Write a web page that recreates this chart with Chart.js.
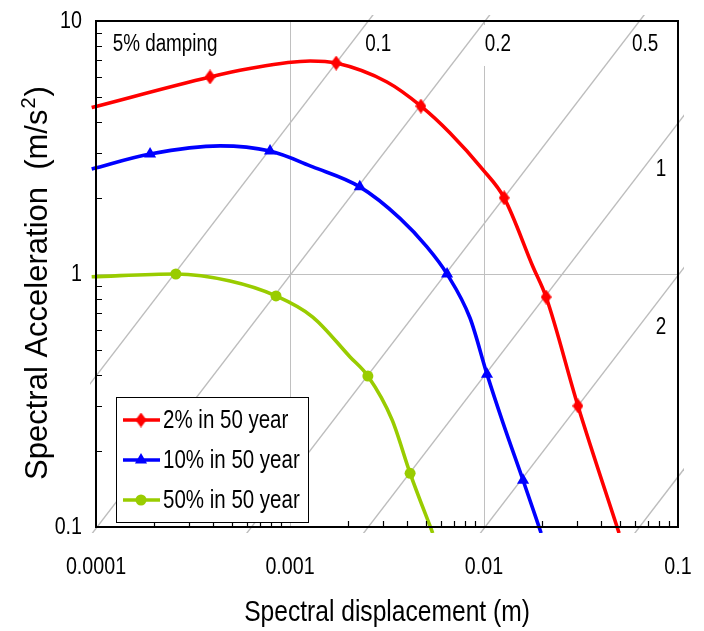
<!DOCTYPE html>
<html lang="en">
<head>
<meta charset="UTF-8">
<title>Spectral acceleration vs spectral displacement</title>
<script src="https://cdn.jsdelivr.net/npm/chart.js"></script>
<style>
  body { margin: 0; background: #fff; }
  #wrap { width: 704px; height: 631px; position: relative; }
</style>
</head>
<body>
<div id="wrap"><canvas id="chartCanvas"></canvas></div>
<script>
// axis ticks
const xTicks = [0.0001, 0.001, 0.01, 0.1];
const xTickLabels = ['0.0001', '0.001', '0.01', '0.1'];
const yTicks = [0.1, 1, 10];
const yTickLabels = ['0.1', '1', '10'];

// spectra (Sd in m, Sa in m/s2)
// mark = 1 where the picture shows a marker; first / last points sit just outside the frame
const red2Sd = [0.000095, 0.000387, 0.0006, 0.00127, 0.00173, 0.00316, 0.00473, 0.00668, 0.00989, 0.0127, 0.0179, 0.0209, 0.0305, 0.0497];
const red2Sa = [4.55, 6.01, 6.46, 6.95, 6.82, 5.74, 4.61, 3.61, 2.58, 2.0, 1.066, 0.811, 0.301, 0.0946];
const red2Mark = [0, 1, 0, 0, 1, 0, 1, 0, 0, 1, 0, 1, 1, 0];

const blue10Sd = [0.000095, 0.00019, 0.000436, 0.000789, 0.00131, 0.00229, 0.00369, 0.00508, 0.00645, 0.00847, 0.01036, 0.01253, 0.0159, 0.0197];
const blue10Sa = [2.6, 2.98, 3.21, 3.06, 2.65, 2.21, 1.66, 1.28, 1.0, 0.670, 0.402, 0.258, 0.153, 0.0946];
const blue10Mark = [0, 1, 0, 1, 0, 1, 0, 0, 1, 0, 1, 0, 1, 0];

const green50Sd = [0.000095, 0.000258, 0.000491, 0.000847, 0.00131, 0.00204, 0.00252, 0.00336, 0.00416, 0.00544];
const green50Sa = [0.975, 1.0, 0.938, 0.819, 0.676, 0.470, 0.395, 0.265, 0.163, 0.0946];
const green50Mark = [0, 1, 0, 1, 0, 0, 1, 0, 1, 0];

// constant period lines (T in s): Sd where each crosses Sa = 0.01 and Sa = 100
const periods = ['0.1', '0.2', '0.5', '1', '2', '5'];
const periodSdLow = [2.533e-6, 1.013e-5, 6.333e-5, 2.533e-4, 1.013e-3, 6.333e-3];
const periodSdHigh = [2.533e-2, 0.1013, 0.6333, 2.533, 10.13, 63.33];

// text notes inside the plot
const noteText = ['5% damping', '0.1', '0.2', '0.5', '1', '2'];
const noteSd = [0.000227, 0.00285, 0.0118, 0.0676, 0.0817, 0.0817];
const noteSa = [8.04, 8.04, 8.04, 8.04, 2.58, 0.612];

const FONT = '"Liberation Sans", Arial, sans-serif';
const SQUEEZE = 0.82;   // the original lettering is condensed

function label(ctx, text, x, y, size, align, baseline) {
    ctx.save();
    ctx.translate(x, y);
    ctx.scale(SQUEEZE, 1);
    ctx.font = size + 'px ' + FONT;
    ctx.fillStyle = '#000';
    ctx.textAlign = align;
    ctx.textBaseline = baseline;
    ctx.fillText(text, 0, 0);
    ctx.restore();
}

function textWidth(ctx, text, size) {
    ctx.save();
    ctx.font = size + 'px ' + FONT;
    const w = ctx.measureText(text).width * SQUEEZE;
    ctx.restore();
    return w;
}

function diamond(color, w, h) {
    const c = document.createElement('canvas');
    c.width = w; c.height = h;
    const g = c.getContext('2d');
    g.fillStyle = color;
    g.beginPath();
    g.moveTo(w / 2, 0); g.lineTo(w, h / 2); g.lineTo(w / 2, h); g.lineTo(0, h / 2);
    g.closePath(); g.fill();
    return c;
}

function curve(label, color, style, r, xs, ys, mark) {
    return {
        label: label,
        data: xs.map((x, i) => ({ x: x, y: ys[i] })),
        showLine: true,
        borderColor: color,
        backgroundColor: color,
        borderWidth: 3.6,
        cubicInterpolationMode: 'monotone',
        pointStyle: style,
        pointRadius: ctx => (ctx.dataIndex === undefined || mark[ctx.dataIndex]) ? r : 0,
        pointBorderWidth: 0,
        clip: 6
    };
}

const datasets = [
    curve('2% in 50 year', '#ff0000', diamond('#ff0000', 11, 15), 6, red2Sd, red2Sa, red2Mark),
    curve('10% in 50 year', '#0000ff', 'triangle', 7, blue10Sd, blue10Sa, blue10Mark),
    curve('50% in 50 year', '#99cc00', 'circle', 5.5, green50Sd, green50Sa, green50Mark)
];
periods.forEach((t, i) => {
    datasets.push({
        label: 'T = ' + t,
        data: [{ x: periodSdLow[i], y: 0.01 }, { x: periodSdHigh[i], y: 100 }],
        showLine: true,
        borderColor: '#bdbdbd',
        borderWidth: 1.4,
        pointRadius: 0,
        tension: 0,
        clip: 6
    });
});

function legendMarker(ctx, ds, cx, cy) {
    ctx.fillStyle = ds.borderColor;
    if (typeof ds.pointStyle === 'object') {
        ctx.drawImage(ds.pointStyle, cx - ds.pointStyle.width / 2, cy - ds.pointStyle.height / 2);
        return;
    }
    ctx.beginPath();
    if (ds.pointStyle === 'triangle') {
        const r = 7;
        ctx.moveTo(cx, cy - r);
        ctx.lineTo(cx + r * 0.866, cy + r * 0.5);
        ctx.lineTo(cx - r * 0.866, cy + r * 0.5);
        ctx.closePath();
    } else {
        ctx.arc(cx, cy, 5.5, 0, Math.PI * 2);
    }
    ctx.fill();
}

const notesPlugin = {
    id: 'notes',
    beforeDatasetsDraw(chart) {
        const { ctx, chartArea: a, scales: { x, y } } = chart;
        noteText.forEach((t, i) => {
            const px = x.getPixelForValue(noteSd[i]);
            const py = y.getPixelForValue(noteSa[i]);
            const w = textWidth(ctx, t, 23);
            const top = Math.max(a.top + 1, py - 20);
            ctx.fillStyle = '#fff';
            ctx.fillRect(px - w / 2 - 4, top, w + 8, py + 21 - top);
            label(ctx, t, px, py, 23, 'center', 'middle');
        });
    }
};

const framePlugin = {
    id: 'frame',
    afterDatasetsDraw(chart) {
        const { ctx, chartArea: a, scales: { x, y } } = chart;
        ctx.save();
        ctx.strokeStyle = '#000';
        ctx.lineWidth = 1.2;
        ctx.beginPath();
        // minor ticks, pointing inward
        for (let e = -4; e < -1; e++) {
            for (let m = 2; m < 10; m++) {
                const px = Math.round(x.getPixelForValue(m * Math.pow(10, e))) + 0.5;
                ctx.moveTo(px, a.bottom);
                ctx.lineTo(px, a.bottom - 6);
            }
        }
        for (let e = -1; e < 1; e++) {
            for (let m = 2; m < 10; m++) {
                const py = Math.round(y.getPixelForValue(m * Math.pow(10, e))) + 0.5;
                ctx.moveTo(a.left, py);
                ctx.lineTo(a.left + 6, py);
            }
        }
        ctx.stroke();
        ctx.lineWidth = 2;
        ctx.strokeRect(a.left, a.top, a.right - a.left, a.bottom - a.top);
        ctx.restore();
    },
    afterDraw(chart) {
        const { ctx, chartArea: a, scales: { x, y } } = chart;

        // tick labels and x title, condensed like the original
        x.ticks.forEach((t, i) => label(ctx, xTickLabels[i], x.getPixelForValue(t.value), a.bottom + 40, 24, 'center', 'middle'));
        y.ticks.forEach((t, i) => label(ctx, yTickLabels[i], a.left - 14, y.getPixelForValue(t.value), 24, 'right', 'middle'));
        label(ctx, 'Spectral displacement (m)', (a.left + a.right) / 2, a.bottom + 86, 30, 'center', 'middle');

        // y title with a raised 2
        ctx.save();
        ctx.translate(38, (a.top + a.bottom) / 2 + 9);
        ctx.rotate(-Math.PI / 2);
        ctx.fillStyle = '#000';
        ctx.textBaseline = 'middle';
        ctx.textAlign = 'left';
        const main = 'Spectral Acceleration  (m/s', sup = '2', close = ')';
        ctx.font = '31px ' + FONT;
        const wMain = ctx.measureText(main).width, wClose = ctx.measureText(close).width;
        ctx.font = '20px ' + FONT;
        const wSup = ctx.measureText(sup).width;
        let tx = -(wMain + wSup + wClose + 2) / 2;
        ctx.font = '31px ' + FONT;
        ctx.fillText(main, tx, 0);
        tx += wMain + 1;
        ctx.font = '20px ' + FONT;
        ctx.fillText(sup, tx, -9);
        tx += wSup + 1;
        ctx.font = '31px ' + FONT;
        ctx.fillText(close, tx, 0);
        ctx.restore();

        // legend box in the lower left corner
        const bx = a.left + 20, bw = 192, bh = 125;
        const by = a.bottom - 5 - bh;
        ctx.save();
        ctx.fillStyle = '#fff';
        ctx.fillRect(bx, by, bw, bh);
        ctx.strokeStyle = '#000';
        ctx.lineWidth = 1;
        ctx.strokeRect(bx + 0.5, by + 0.5, bw, bh);
        chart.data.datasets.slice(0, 3).forEach((ds, i) => {
            const ly = by + 23 + i * 40;
            ctx.strokeStyle = ds.borderColor;
            ctx.lineWidth = 3.6;
            ctx.beginPath();
            ctx.moveTo(bx + 7, ly);
            ctx.lineTo(bx + 44, ly);
            ctx.stroke();
            legendMarker(ctx, ds, bx + 25, ly);
            label(ctx, ds.label, bx + 47, ly + 1, 25, 'left', 'middle');
        });
        ctx.restore();
    }
};

const ctx = document.getElementById('chartCanvas').getContext('2d');
const chart = new Chart(ctx, {
    type: 'scatter',
    data: { datasets: datasets },
    options: {
        responsive: true,
        maintainAspectRatio: false,
        animation: false,
        layout: { padding: { top: 21, right: 26, left: 0, bottom: 0 } },
        plugins: {
            legend: { display: false },
            tooltip: { enabled: false }
        },
        scales: {
            x: {
                type: 'logarithmic',
                position: 'bottom',
                min: 0.0001,
                max: 0.1,
                afterBuildTicks: s => { s.ticks = xTicks.map(v => ({ value: v })); },
                afterFit: s => { s.height = 104; },
                ticks: { display: false },
                grid: {
                    drawTicks: false,
                    lineWidth: 1,
                    color: c => (c.index > 0 && c.index < xTicks.length - 1) ? '#c0c0c0' : 'rgba(0,0,0,0)'
                },
                border: { display: false }
            },
            y: {
                type: 'logarithmic',
                position: 'left',
                min: 0.1,
                max: 10,
                afterBuildTicks: s => { s.ticks = yTicks.map(v => ({ value: v })); },
                afterFit: s => { s.width = 96; },
                ticks: { display: false },
                grid: {
                    drawTicks: false,
                    lineWidth: 1,
                    color: c => (c.index > 0 && c.index < yTicks.length - 1) ? '#c0c0c0' : 'rgba(0,0,0,0)'
                },
                border: { display: false }
            }
        }
    },
    plugins: [notesPlugin, framePlugin]
});
</script>
</body>
</html>
